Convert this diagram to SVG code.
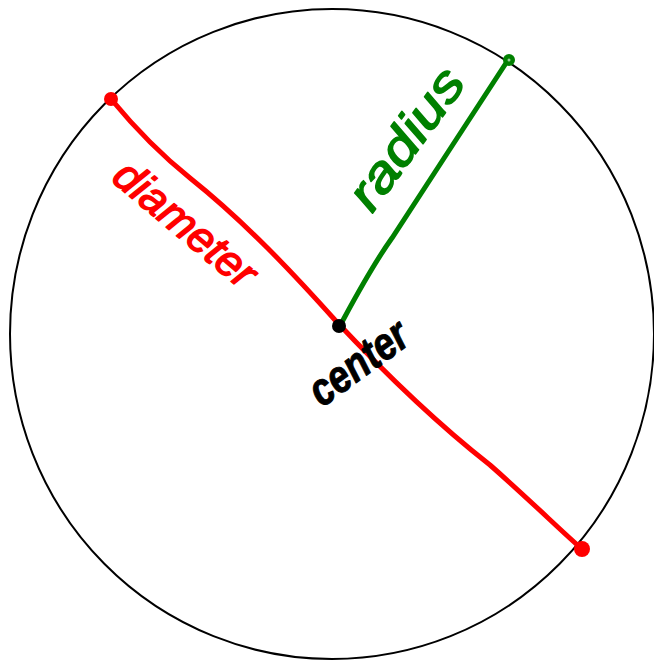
<svg xmlns="http://www.w3.org/2000/svg" width="654" height="660" viewBox="0 0 654 660">
<style>
.lbl{font-family:"Liberation Sans","DejaVu Sans",sans-serif;font-style:italic;stroke-linejoin:round;}
</style>
<rect width="654" height="660" fill="#fff"/>
<g id="circle">
<ellipse cx="332" cy="334" rx="322" ry="325" fill="none" stroke="#000" stroke-width="2"/>
</g>
<g id="connectors">
<path id="diameter-line" d="M 111 99 C 130 122 155 150 190 178 C 245 222 292 272 335 320 C 380 368 430 418 490 465 C 530 500 560 530 582 549" fill="none" stroke="#ff0000" stroke-width="5" stroke-linecap="round"/>
<path id="radius-line" d="M 342 322 C 356 296 372 266 392 238 C 430 180 470 118 508 60" fill="none" stroke="#008000" stroke-width="5" stroke-linecap="round"/>
</g>
<g id="points">
<circle cx="111" cy="99" r="7" fill="#ff0000"/>
<circle cx="582" cy="549" r="8" fill="#ff0000"/>
<circle cx="509" cy="60" r="6" fill="#008000"/>
<circle cx="509" cy="60" r="1.5" fill="#9c9"/>
<circle cx="339" cy="326" r="7" fill="#000"/>
</g>
<g id="label-diameter">
<text class="lbl" x="0" y="0" font-size="44" fill="#ff0000" stroke="#ff0000" stroke-width="1.5" textLength="172" lengthAdjust="spacingAndGlyphs" transform="translate(110,180) rotate(40)">diameter</text>
</g>
<g id="label-radius">
<text class="lbl" x="0" y="0" font-size="50" fill="#008000" stroke="#008000" stroke-width="1.5" textLength="162" lengthAdjust="spacingAndGlyphs" transform="translate(372,214) rotate(-54)">radius</text>
</g>
<g id="label-center">
<text class="lbl" x="0" y="0" font-size="46" font-weight="bold" fill="#000" stroke="#000" stroke-width="1" textLength="112" lengthAdjust="spacingAndGlyphs" transform="translate(322,408) rotate(-36)">center</text>
</g>
</svg>
